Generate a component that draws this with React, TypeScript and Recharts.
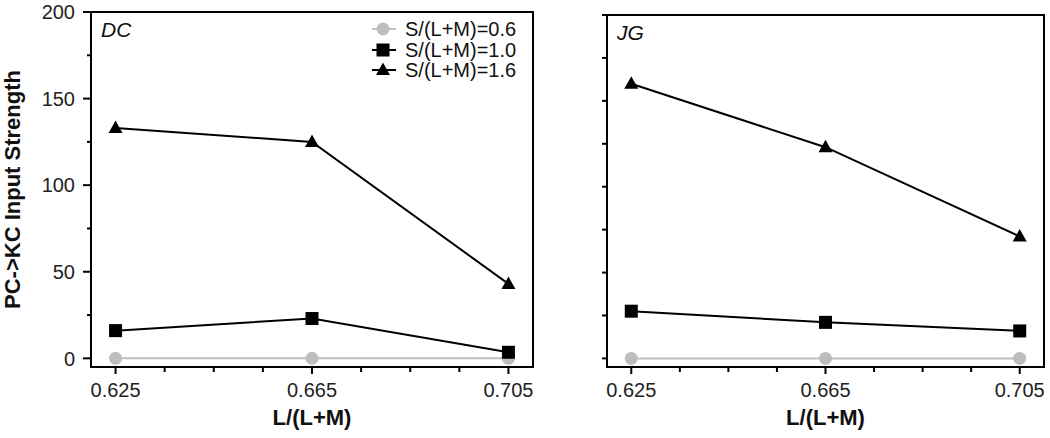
import { LineChart, Line, XAxis, YAxis, ReferenceArea, Legend } from "recharts";

// L/(L+M) positions (x categories)
const lumRatios = [0.625, 0.665, 0.705];

// DC panel
const dcS06 = [0, 0, 0];
const dcS10 = [16, 23, 3.5];
const dcS16 = [133, 125, 43];

// JG panel
const jgS06 = [0, 0, 0];
const jgS10 = [27.5, 21, 16];
const jgS16 = [160, 123, 71];

const xTicks = [0.625, 0.635, 0.645, 0.655, 0.665, 0.675, 0.685, 0.695, 0.705];
const xMajor = [0.625, 0.665, 0.705];
const yTicks = [0, 25, 50, 75, 100, 125, 150, 175, 200];
const yMajor = [0, 50, 100, 150, 200];

const X_DOMAIN: [number, number] = [0.62, 0.71];
const Y_DOMAIN: [number, number] = [-5, 200];

const FONT = '"Liberation Sans", Arial, Helvetica, sans-serif';

const series = [
  { key: "s06", name: "S/(L+M)=0.6", color: "#bdbdbd", marker: "circle" },
  { key: "s10", name: "S/(L+M)=1.0", color: "#000000", marker: "square" },
  { key: "s16", name: "S/(L+M)=1.6", color: "#000000", marker: "triangle" },
];

const buildRows = (a: number[], b: number[], c: number[]) =>
  lumRatios.map((l, i) => ({ l, s06: a[i], s10: b[i], s16: c[i] }));

const dcData = buildRows(dcS06, dcS10, dcS16);
const jgData = buildRows(jgS06, jgS10, jgS16);

const isMajor = (list: number[], v: number) => list.some((m) => Math.abs(m - v) < 1e-9);

function Marker({ kind, cx, cy, color }: { kind: string; cx?: number; cy?: number; color: string }) {
  if (cx == null || cy == null) return null;
  if (kind === "circle") return <circle cx={cx} cy={cy} r={6.5} fill={color} />;
  if (kind === "square") return <rect x={cx - 6.5} y={cy - 6.5} width={13} height={13} fill={color} />;
  return <polygon points={`${cx},${cy - 7.5} ${cx - 7},${cy + 5} ${cx + 7},${cy + 5}`} fill={color} />;
}

function XTick(props: any) {
  const { x, y, payload } = props;
  const major = isMajor(xMajor, payload.value);
  return (
    <g>
      <line x1={x} y1={y} x2={x} y2={y + (major ? 7 : 5)} stroke="#000" strokeWidth={2} />
      {major && (
        <text x={x} y={y + 30} textAnchor="middle" fontSize={20} fill="#222" fontFamily={FONT}>
          {payload.value.toFixed(3)}
        </text>
      )}
    </g>
  );
}

function YTickLabeled(props: any) {
  const { x, y, payload } = props;
  const major = isMajor(yMajor, payload.value);
  return (
    <g>
      <line x1={x - (major ? 8 : 4)} y1={y} x2={x} y2={y} stroke="#000" strokeWidth={2} />
      {major && (
        <text x={x - 16} y={y} dy="0.36em" textAnchor="end" fontSize={20} fill="#222" fontFamily={FONT}>
          {payload.value}
        </text>
      )}
    </g>
  );
}

function YTickPlain(props: any) {
  const { x, y } = props;
  return <line x1={x - 5} y1={y} x2={x} y2={y} stroke="#000" strokeWidth={2} />;
}

const renderLegend = () => (
  <div style={{ fontFamily: FONT, fontSize: 20, color: "#111" }}>
    {series.map((s) => (
      <div key={s.key} style={{ display: "flex", alignItems: "center", height: 20.5 }}>
        <svg width={24} height={20} style={{ marginRight: 9 }}>
          <line x1={0} y1={10} x2={24} y2={10} stroke={s.color} strokeWidth={2} />
          <Marker kind={s.marker} cx={11} cy={10} color={s.color} />
        </svg>
        <span style={{ lineHeight: "20px" }}>{s.name}</span>
      </div>
    ))}
  </div>
);

function Panel({
  data,
  tag,
  width,
  yWidth,
  margin,
  labeled,
}: {
  data: any[];
  tag: string;
  width: number;
  yWidth: number;
  margin: { top: number; right: number; bottom: number; left: number };
  labeled: boolean;
}) {
  return (
    <LineChart width={width} height={438} data={data} margin={margin}>
      <XAxis
        dataKey="l"
        type="number"
        domain={X_DOMAIN}
        allowDataOverflow
        ticks={xTicks}
        interval={0}
        tickSize={0}
        tickMargin={0}
        tickLine={false}
        tick={<XTick />}
        axisLine={{ stroke: "#000", strokeWidth: 2 }}
        height={71}
        label={{
          value: "L/(L+M)",
          position: "insideBottom",
          offset: 13,
          fontSize: 22,
          fontWeight: "bold",
          fill: "#111",
        }}
      />
      <YAxis
        type="number"
        domain={Y_DOMAIN}
        allowDataOverflow
        ticks={yTicks}
        interval={0}
        tickSize={0}
        tickMargin={0}
        tickLine={false}
        tick={labeled ? <YTickLabeled /> : <YTickPlain />}
        axisLine={{ stroke: "#000", strokeWidth: 2 }}
        width={yWidth}
        label={
          labeled
            ? {
                value: "PC->KC Input Strength",
                angle: -90,
                position: "insideLeft",
                offset: 12,
                fontSize: 22,
                fontWeight: "bold",
                fill: "#111",
                style: { textAnchor: "middle" },
              }
            : undefined
        }
      />
      <ReferenceArea
        x1={X_DOMAIN[0]}
        x2={X_DOMAIN[1]}
        y1={Y_DOMAIN[0]}
        y2={Y_DOMAIN[1]}
        fill="none"
        fillOpacity={0}
        stroke="#000"
        strokeWidth={2}
        label={{
          value: tag,
          position: "insideTopLeft",
          offset: 10,
          fontSize: 21,
          fontStyle: "italic",
          fill: "#111",
        }}
      />
      {series.map((s) => (
        <Line
          key={s.key}
          type="linear"
          dataKey={s.key}
          name={s.name}
          stroke={s.color}
          strokeWidth={2}
          isAnimationActive={false}
          activeDot={false}
          dot={(p: any) => <Marker key={`${s.key}-${p.index}`} kind={s.marker} cx={p.cx} cy={p.cy} color={s.color} />}
        />
      ))}
      {labeled && (
        <Legend
          layout="vertical"
          align="center"
          verticalAlign="middle"
          content={renderLegend}
          wrapperStyle={{ left: 372, top: 19, width: 170 }}
        />
      )}
    </LineChart>
  );
}

export default function App() {
  return (
    <div
      style={{
        position: "absolute",
        left: 0,
        top: 0,
        width: 1050,
        height: 438,
        background: "#fff",
        fontFamily: FONT,
      }}
    >
      <div style={{ position: "absolute", left: 0, top: 0 }}>
        <Panel
          data={dcData}
          tag="DC"
          width={540}
          yWidth={91}
          margin={{ top: 12, right: 7, bottom: 0, left: 0 }}
          labeled
        />
      </div>
      <div style={{ position: "absolute", left: 540, top: 0 }}>
        <Panel
          data={jgData}
          tag="JG"
          width={510}
          yWidth={67}
          margin={{ top: 15, right: 6, bottom: 0, left: 0 }}
          labeled={false}
        />
      </div>
    </div>
  );
}
